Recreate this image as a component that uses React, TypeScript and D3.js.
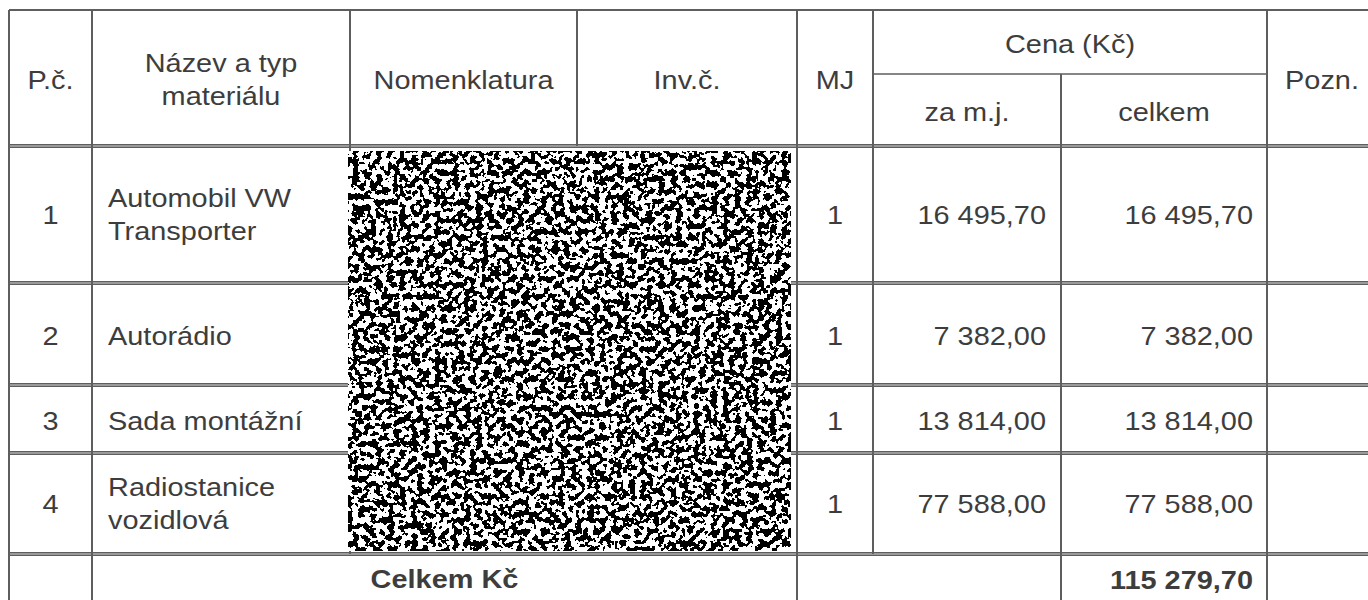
import React from "react";
import * as d3 from "d3";

// table content
const rowNumbers = ["1", "2", "3", "4"];
const itemNames = [
  ["Automobil VW", "Transporter"],
  ["Autorádio"],
  ["Sada montážní"],
  ["Radiostanice", "vozidlová"],
];
const quantities = [1, 1, 1, 1];
const unitPrices = [16495.7, 7382.0, 13814.0, 77588.0];
const totalPrices = [16495.7, 7382.0, 13814.0, 77588.0];
const grandTotal = 115279.7;
const headerLabels = ["P.č.", "Nomenklatura", "Inv.č.", "MJ", "Pozn."];
const nameHeader = ["Název a typ", "materiálu"];
const priceHeader = "Cena (Kč)";
const priceSubHeaders = ["za m.j.", "celkem"];
const totalLabel = "Celkem Kč";

// layout of the scanned grid
const W = 1368;
const H = 600;
const colEdges = [9, 92, 350, 577, 797, 873, 1061, 1267, 1377];
const rowEdges = [10, 146, 283, 385, 453, 554, 604];
const subHeaderY = 74;

const czech = d3.formatLocale({
  decimal: ",",
  thousands: " ",
  grouping: [3],
  currency: ["", " Kč"],
});
const money = czech.format(",.2f");

const INK = "#3d3d3d";
const LINE = "#5e5e5e";
const FONT = "'Liberation Sans', Arial, sans-serif";
const SX = 1.13; // the scan is stretched sideways

function T({ x, y, children, anchor = "middle", bold = false }: any) {
  return (
    <text
      transform={`translate(${x},${y}) scale(${SX},1)`}
      textAnchor={anchor}
      fontFamily={FONT}
      fontSize={25.6}
      fontWeight={bold ? 700 : 400}
      fill={INK}
    >
      {children}
    </text>
  );
}

export default function App() {
  const mid = (a: number, b: number) => (a + b) / 2;
  const cx = (i: number) => mid(colEdges[i], colEdges[i + 1]);
  const rowMid = (r: number) => mid(rowEdges[r], rowEdges[r + 1]);
  const base = (r: number) => rowMid(r) + 10.5;

  const redact = {
    x: colEdges[2] - 2,
    y: rowEdges[1] + 5,
    w: colEdges[4] - colEdges[2] - 4,
    h: rowEdges[5] - rowEdges[1] - 8,
  };

  const bodyRows = d3.range(rowNumbers.length).map((i) => i + 1);

  return (
    <svg
      width={W}
      height={H}
      style={{ position: "absolute", left: 0, top: 0, background: "#fff" }}
    >
      <defs>
        <filter
          id="redact"
          x={redact.x}
          y={redact.y}
          width={redact.w}
          height={redact.h}
          filterUnits="userSpaceOnUse"
        >
          <feTurbulence type="fractalNoise" baseFrequency="0.17" numOctaves="2" seed="11" />
          <feColorMatrix
            type="matrix"
            values="1 0 0 0 0  1 0 0 0 0  1 0 0 0 0  0 0 0 0 1"
          />
          <feComponentTransfer>
            <feFuncR type="discrete" tableValues="0 1" />
            <feFuncG type="discrete" tableValues="0 1" />
            <feFuncB type="discrete" tableValues="0 1" />
          </feComponentTransfer>
        </filter>
      </defs>
      <rect width={W} height={H} fill="#fff" />

      {/* horizontal rules */}
      <line x1={colEdges[0]} x2={W} y1={rowEdges[0]} y2={rowEdges[0]} stroke={LINE} strokeWidth={2} />
      <line x1={colEdges[5]} x2={colEdges[7]} y1={subHeaderY} y2={subHeaderY} stroke={LINE} strokeWidth={1.6} />
      {rowEdges.slice(1, 6).map((y, i) => (
        <g key={i}>
          <line x1={colEdges[0]} x2={W} y1={y} y2={y} stroke="#9a9a9a" strokeWidth={4} />
          <line x1={colEdges[0]} x2={W} y1={y - 1.5} y2={y - 1.5} stroke={LINE} strokeWidth={1} />
          <line x1={colEdges[0]} x2={W} y1={y + 1.5} y2={y + 1.5} stroke={LINE} strokeWidth={1} />
        </g>
      ))}

      {/* vertical rules */}
      {colEdges.slice(0, 8).map((x, i) => {
        // nomenclature / inventory split only in the header; MJ split stops above the total row
        const yEnd = i === 3 ? rowEdges[1] : i === 5 ? rowEdges[5] : i === 2 ? rowEdges[5] : H;
        const yStart = i === 6 ? subHeaderY : rowEdges[0];
        return (
          <line key={i} x1={x} x2={x} y1={yStart} y2={yEnd} stroke={LINE} strokeWidth={2} />
        );
      })}

      {/* header */}
      <T x={cx(0)} y={base(0)}>{headerLabels[0]}</T>
      <T x={cx(1)} y={base(0) - 16.5}>{nameHeader[0]}</T>
      <T x={cx(1)} y={base(0) + 16}>{nameHeader[1]}</T>
      <T x={cx(2)} y={base(0)}>{headerLabels[1]}</T>
      <T x={cx(3)} y={base(0)}>{headerLabels[2]}</T>
      <T x={cx(4)} y={base(0)}>{headerLabels[3]}</T>
      <T x={mid(colEdges[5], colEdges[7])} y={mid(rowEdges[0], subHeaderY) + 11}>{priceHeader}</T>
      <T x={cx(5)} y={mid(subHeaderY, rowEdges[1]) + 11}>{priceSubHeaders[0]}</T>
      <T x={cx(6)} y={mid(subHeaderY, rowEdges[1]) + 11}>{priceSubHeaders[1]}</T>
      <T x={cx(7)} y={base(0)}>{headerLabels[4]}</T>

      {/* body rows */}
      {bodyRows.map((r, i) => {
        const lines = itemNames[i];
        const b = base(r) + (lines.length > 1 ? -1.5 : 0);
        return (
          <g key={r}>
            <T x={cx(0)} y={b}>{rowNumbers[i]}</T>
            {lines.map((s, k) => (
              <T key={k} x={colEdges[1] + 16} y={b + (k - (lines.length - 1) / 2) * 33} anchor="start">
                {s}
              </T>
            ))}
            <T x={cx(4)} y={b}>{quantities[i]}</T>
            <T x={colEdges[6] - 15} y={b} anchor="end">{money(unitPrices[i])}</T>
            <T x={colEdges[7] - 14} y={b} anchor="end">{money(totalPrices[i])}</T>
          </g>
        );
      })}

      {/* blacked-out nomenclature / inventory block */}
      <rect x={redact.x} y={redact.y} width={redact.w} height={redact.h} fill="#fff" filter="url(#redact)" />

      {/* total row */}
      <T x={mid(colEdges[1], colEdges[4])} y={rowEdges[5] + 34} bold>{totalLabel}</T>
      <T x={colEdges[7] - 14} y={rowEdges[5] + 35} anchor="end" bold>{money(grandTotal)}</T>
    </svg>
  );
}
